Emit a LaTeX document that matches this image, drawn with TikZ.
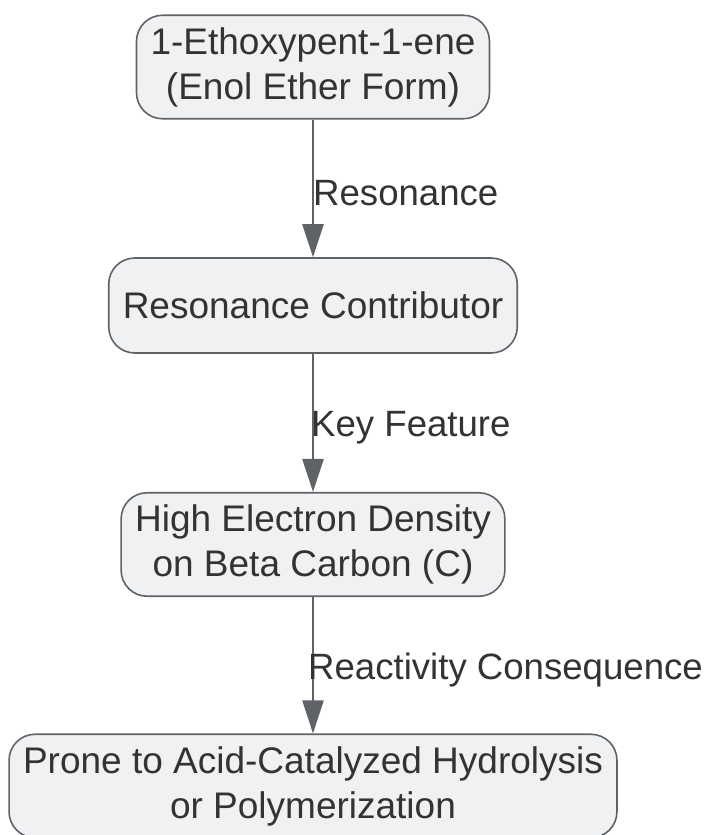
\documentclass[tikz,border=0pt]{standalone}
\usepackage{fontspec}
\setmainfont{Liberation Sans}
\usetikzlibrary{arrows.meta,positioning}
\definecolor{boxfill}{HTML}{F0F1F3}
\definecolor{boxline}{HTML}{5F6368}
\definecolor{arrowgray}{HTML}{5F6368}
\definecolor{txt}{HTML}{333333}
\begin{document}
\begin{tikzpicture}[x=1pt,y=-1pt,
  stage/.style={rectangle,rounded corners=26pt,draw=boxline,line width=1.6pt,fill=boxfill,
    align=center,inner xsep=14pt,inner ysep=12pt,minimum height=95pt,
    font=\fontsize{37}{45}\selectfont,text=txt},
  flow/.style={-{Triangle[width=21pt,length=33pt,fill=arrowgray]},line width=2.4pt,draw=arrowgray},
  lbl/.style={anchor=west,inner sep=0pt,yshift=-5pt,font=\fontsize{36.6}{45}\selectfont,text=txt}]
\useasboundingbox (0,0) rectangle (711,835);
% \draw[help lines,step=50] (0,0) grid (711,835);
\node (enol) [stage] at (313,67) {1-Ethoxypent-1-ene\\(Enol Ether Form)};
\node (res) [stage] at (313,305.5) {Resonance Contributor};
\node (dens) [stage] at (313,544.5) {High Electron Density\\on Beta Carbon (C)};
\node (prone) [stage] at (313,786) {Prone to Acid-Catalyzed Hydrolysis\\or Polymerization};
%
\path[flow] (enol) edge node[lbl,xshift=-1pt] {Resonance} (res);
\path[flow] (res) edge node[lbl,xshift=-3pt] {Key Feature} (dens);
\path[flow] (dens) edge node[lbl,xshift=-6pt] {Reactivity Consequence} (prone);
\end{tikzpicture}
\end{document}
